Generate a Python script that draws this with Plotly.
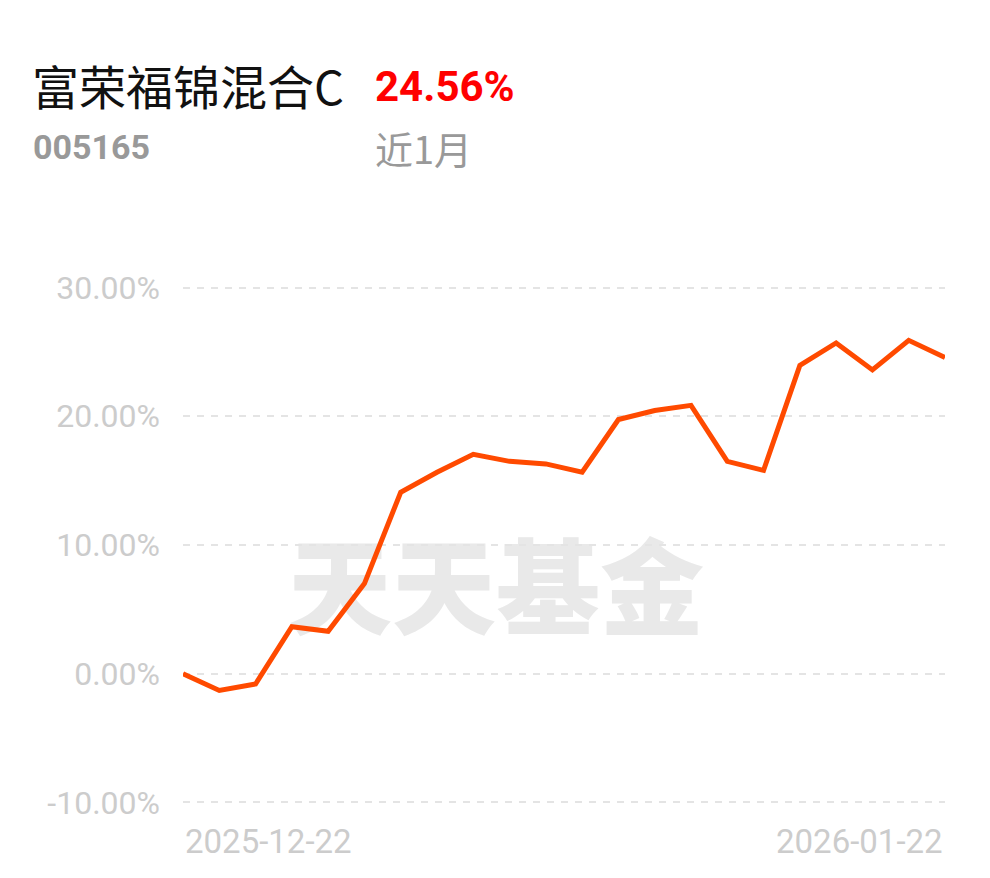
import plotly.graph_objects as go

dates = ["2025-12-22", "2025-12-23", "2025-12-24", "2025-12-25", "2025-12-26",
         "2025-12-29", "2025-12-30", "2025-12-31", "2026-01-05", "2026-01-06",
         "2026-01-07", "2026-01-08", "2026-01-09", "2026-01-12", "2026-01-13",
         "2026-01-14", "2026-01-15", "2026-01-16", "2026-01-19", "2026-01-20",
         "2026-01-21", "2026-01-22"]
returns = [0.00, -1.30, -0.80, 3.65, 3.30, 7.00, 14.10, 15.65, 17.05, 16.50,
           16.30, 15.65, 19.75, 20.45, 20.85, 16.50, 15.80, 23.95, 25.70, 23.60,
           25.90, 24.56]
ytick_vals = [-10, 0, 10, 20, 30]
ytick_labels = ["-10.00%", "0.00%", "10.00%", "20.00%", "30.00%"]

fund_name = "富荣福锦混合C"
fund_code = "005165"
period_return = "24.56%"
period_label = "近1月"
watermark = "天天基金"

W, H = 990, 878
L, R, T, B = 183, 45, 285, 73
pw, ph = W - L - R, H - T - B


def px(x):
    return (x - L) / pw


def py(y):
    return (H - B - y) / ph


SANS = "Roboto, Arial, sans-serif"
CJK = "Noto Sans CJK SC, sans-serif"

fig = go.Figure()
fig.add_trace(go.Scatter(
    x=dates, y=returns, mode="lines",
    line=dict(color="#FF4A00", width=5, shape="linear"),
    hoverinfo="skip", showlegend=False,
))

fig.update_layout(
    width=W, height=H,
    margin=dict(l=L, r=R, t=T, b=B, pad=0),
    paper_bgcolor="white", plot_bgcolor="white",
    xaxis=dict(type="category", range=[0, len(dates) - 1], showgrid=False,
               showticklabels=False, zeroline=False, showline=False, fixedrange=True),
    yaxis=dict(range=[-10.2, 30.2], tickvals=ytick_vals, ticktext=ytick_labels,
               showgrid=True, gridcolor="#e4e4e4", gridwidth=2, griddash="7px,7px",
               zeroline=False, showline=False, ticks="", ticklabelstandoff=22,
               fixedrange=True,
               tickfont=dict(family=SANS, size=32, color="#cccccc")),
    shapes=[dict(type="rect", xref="paper", yref="paper",
                 x0=px(282), x1=px(710), y0=py(652), y1=py(545),
                 line=dict(width=0), fillcolor="rgba(0,0,0,0)", layer="below",
                 label=dict(text=watermark, textposition="middle center",
                            font=dict(family=CJK, size=104, color="#e9e9e9", weight=900)))],
    annotations=[
        dict(text=fund_name, xref="paper", yref="paper", x=px(30), y=py(84),
             xanchor="left", yanchor="middle", showarrow=False,
             font=dict(family=CJK, size=47, color="#111111")),
        dict(text="<b>" + period_return + "</b>", xref="paper", yref="paper", x=px(373), y=py(86),
             xanchor="left", yanchor="middle", showarrow=False,
             font=dict(family=SANS, size=42, color="#ff0000")),
        dict(text="<b>" + fund_code + "</b>", xref="paper", yref="paper", x=px(31), y=py(147),
             xanchor="left", yanchor="middle", showarrow=False,
             font=dict(family=SANS, size=34, color="#999999")),
        dict(text=period_label, xref="paper", yref="paper", x=px(373), y=py(147),
             xanchor="left", yanchor="middle", showarrow=False,
             font=dict(family=CJK, size=38, color="#999999")),
        dict(text=dates[0], xref="x", yref="paper", x=dates[0], y=py(841),
             xanchor="left", yanchor="middle", showarrow=False,
             font=dict(family=SANS, size=33, color="#cccccc")),
        dict(text=dates[-1], xref="x", yref="paper", x=dates[-1], y=py(841),
             xanchor="right", yanchor="middle", showarrow=False,
             font=dict(family=SANS, size=33, color="#cccccc")),
    ],
)

fig.write_html("out.html", config={"displayModeBar": False, "staticPlot": True},
               post_script="document.body.style.margin='0';document.body.style.padding='0';")
